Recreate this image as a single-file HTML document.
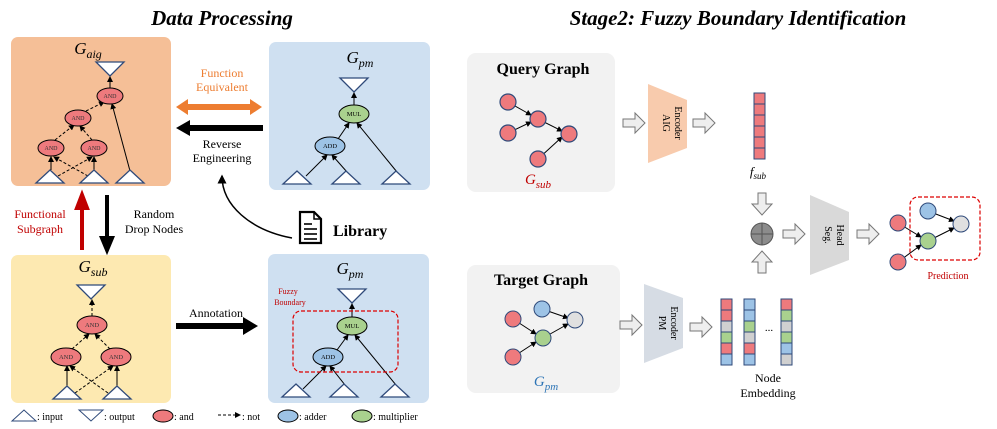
<!DOCTYPE html>
<html><head><meta charset="utf-8"><style>body{margin:0;background:#fff}svg{display:block}text{font-family:"Liberation Serif",serif}</style></head><body>
<svg width="997" height="429" viewBox="0 0 997 429" xmlns="http://www.w3.org/2000/svg">
<defs>
<marker id="ah" markerWidth="6" markerHeight="6" refX="5" refY="3" orient="auto"><path d="M0,0 L6,3 L0,6z" fill="#000"/></marker>
<g id="tin"><path d="M0,13 L14,0 L28,13z" fill="#fff" stroke="#2f4a7a" stroke-width="1.3"/></g>
<g id="tout"><path d="M0,0 L28,0 L14,14z" fill="#fff" stroke="#2f4a7a" stroke-width="1.3"/></g>
<g id="garr"><path d="M0,-4 L12,-4 L12,-10 L22,0 L12,10 L12,4 L0,4z" fill="#eee" stroke="#777" stroke-width="1"/></g>
</defs>
<text x="222" y="25" font-size="21" font-weight="bold" font-style="italic" text-anchor="middle">Data Processing</text>
<text x="738" y="25" font-size="21" font-weight="bold" font-style="italic" text-anchor="middle">Stage2: Fuzzy Boundary Identification</text>

<!-- G_aig -->
<rect x="11" y="37" width="160" height="149" rx="7" fill="#f5bf97"/>
<text x="88" y="54" font-size="17" font-style="italic" text-anchor="middle">G<tspan font-size="12" dy="4">aig</tspan></text>
<use href="#tout" x="96" y="62"/>
<g stroke="#000" stroke-width="1" fill="none">
<line x1="110" y1="88" x2="110" y2="77" marker-end="url(#ah)"/>
<line x1="86" y1="111" x2="104" y2="102" stroke-dasharray="3,2" marker-end="url(#ah)"/>
<line x1="130" y1="171" x2="112" y2="104" marker-end="url(#ah)"/>
<line x1="55" y1="140" x2="74" y2="125" stroke-dasharray="3,2" marker-end="url(#ah)"/>
<line x1="92" y1="140" x2="80" y2="126" stroke-dasharray="3,2" marker-end="url(#ah)"/>
<line x1="51" y1="170" x2="51" y2="157" marker-end="url(#ah)"/>
<line x1="94" y1="170" x2="94" y2="157" marker-end="url(#ah)"/>
<line x1="58" y1="176" x2="92" y2="157" stroke-dasharray="3,2" marker-end="url(#ah)"/>
<line x1="88" y1="176" x2="54" y2="157" stroke-dasharray="3,2" marker-end="url(#ah)"/>
</g>
<g fill="#ee7a7d" stroke="#000" stroke-width="1"><ellipse cx="110" cy="96" rx="13" ry="8"/><ellipse cx="78" cy="118" rx="13" ry="8"/><ellipse cx="51" cy="148" rx="13" ry="8"/><ellipse cx="94" cy="148" rx="13" ry="8"/></g>
<g font-size="6" text-anchor="middle" fill="#333"><text x="110" y="98">AND</text><text x="78" y="120">AND</text><text x="51" y="150">AND</text><text x="94" y="150">AND</text></g>
<use href="#tin" x="36" y="170"/><use href="#tin" x="80" y="170"/><use href="#tin" x="116" y="170"/>

<!-- G_pm top -->
<rect x="269" y="42" width="161" height="148" rx="7" fill="#cfe0f1"/>
<text x="360" y="63" font-size="17" font-style="italic" text-anchor="middle">G<tspan font-size="12" dy="4">pm</tspan></text>
<use href="#tout" x="340" y="78"/>
<g stroke="#000" stroke-width="1"><line x1="354" y1="105" x2="354" y2="93" marker-end="url(#ah)"/><line x1="338" y1="139" x2="349" y2="123" marker-end="url(#ah)"/><line x1="306" y1="176" x2="327" y2="155" marker-end="url(#ah)"/><line x1="347" y1="172" x2="332" y2="155" marker-end="url(#ah)"/><line x1="397" y1="172" x2="357" y2="123" marker-end="url(#ah)"/></g>
<ellipse cx="354" cy="114" rx="15" ry="9" fill="#a9d18e" stroke="#000"/><ellipse cx="330" cy="146" rx="15" ry="9" fill="#9dc3e6" stroke="#000"/>
<text x="354" y="116" font-size="6.5" text-anchor="middle">MUL</text><text x="330" y="148" font-size="6.5" text-anchor="middle">ADD</text>
<use href="#tin" x="283" y="171"/><use href="#tin" x="332" y="171"/><use href="#tin" x="382" y="171"/>

<!-- middle arrows -->
<text x="222" y="77" font-size="12" fill="#ed7d31" text-anchor="middle">Function</text>
<text x="222" y="91" font-size="12" fill="#ed7d31" text-anchor="middle">Equivalent</text>
<path d="M176,107 L188,99 L188,104 L250,104 L250,99 L262,107 L250,115 L250,110 L188,110 L188,115z" fill="#ed7d31"/>
<path d="M176,128 L190,120 L190,125 L263,125 L263,131 L190,131 L190,136z" fill="#000"/>
<text x="222" y="148" font-size="12" text-anchor="middle">Reverse</text>
<text x="222" y="162" font-size="12" text-anchor="middle">Engineering</text>
<path d="M292,238 C250,230 222,205 222,176" fill="none" stroke="#000" stroke-width="1.5" marker-end="url(#ah)"/>
<!-- library -->
<path d="M300,212 L314,212 L321,219 L321,243 L300,243z" fill="#fff" stroke="#000" stroke-width="2.2"/>
<path d="M314,212 L314,219 L321,219" fill="none" stroke="#000" stroke-width="1.5"/>
<g stroke="#000" stroke-width="1.6"><line x1="304" y1="224" x2="312" y2="224"/><line x1="304" y1="229" x2="317" y2="229"/><line x1="304" y1="234" x2="317" y2="234"/><line x1="304" y1="239" x2="317" y2="239"/></g>
<text x="333" y="236" font-size="16" font-weight="bold">Library</text>

<!-- vertical arrows -->
<path d="M82,250 L82,208 L77,208 L82,195 L87,208 L82,208" fill="#c00000" stroke="#c00000" stroke-width="4"/>
<path d="M107,195 L107,238 L112,238 L107,250 L102,238 L107,238" fill="#000" stroke="#000" stroke-width="4"/>
<text x="40" y="218" font-size="12" fill="#c00000" text-anchor="middle">Functional</text>
<text x="40" y="233" font-size="12" fill="#c00000" text-anchor="middle">Subgraph</text>
<text x="154" y="218" font-size="12" text-anchor="middle">Random</text>
<text x="154" y="233" font-size="12" text-anchor="middle">Drop Nodes</text>

<!-- G_sub -->
<rect x="11" y="255" width="160" height="148" rx="7" fill="#fde9b1"/>
<text x="93" y="272" font-size="17" font-style="italic" text-anchor="middle">G<tspan font-size="12" dy="4">sub</tspan></text>
<use href="#tout" x="77" y="285"/>
<g stroke="#000" stroke-width="1"><line x1="92" y1="316" x2="92" y2="300" stroke-dasharray="3,2" marker-end="url(#ah)"/><line x1="72" y1="349" x2="89" y2="334" stroke-dasharray="3,2" marker-end="url(#ah)"/><line x1="110" y1="349" x2="95" y2="334" stroke-dasharray="3,2" marker-end="url(#ah)"/><line x1="67" y1="386" x2="67" y2="366" marker-end="url(#ah)"/><line x1="117" y1="386" x2="117" y2="366" marker-end="url(#ah)"/><line x1="75" y1="393" x2="113" y2="366" stroke-dasharray="3,2" marker-end="url(#ah)"/><line x1="108" y1="393" x2="70" y2="366" stroke-dasharray="3,2" marker-end="url(#ah)"/></g>
<g fill="#ee7a7d" stroke="#000"><ellipse cx="92" cy="325" rx="15" ry="9"/><ellipse cx="66" cy="357" rx="15" ry="9"/><ellipse cx="116" cy="357" rx="15" ry="9"/></g>
<g font-size="6.5" text-anchor="middle" fill="#333"><text x="92" y="327">AND</text><text x="66" y="359">AND</text><text x="116" y="359">AND</text></g>
<use href="#tin" x="53" y="386"/><use href="#tin" x="103" y="386"/>

<text x="216" y="317" font-size="12" text-anchor="middle">Annotation</text>
<path d="M176,323 L243,323 L243,317 L258,326 L243,335 L243,329 L176,329z" fill="#000"/>

<!-- G_pm bottom -->
<rect x="268" y="254" width="161" height="149" rx="7" fill="#cfe0f1"/>
<text x="350" y="274" font-size="17" font-style="italic" text-anchor="middle">G<tspan font-size="12" dy="4">pm</tspan></text>
<text x="288" y="294" font-size="8" fill="#c00000" text-anchor="middle">Fuzzy</text>
<text x="290" y="305" font-size="8" fill="#c00000" text-anchor="middle">Boundary</text>
<use href="#tout" x="338" y="289"/>
<g stroke="#000" stroke-width="1"><line x1="352" y1="317" x2="352" y2="304" marker-end="url(#ah)"/><line x1="337" y1="350" x2="348" y2="335" marker-end="url(#ah)"/><line x1="303" y1="389" x2="326" y2="366" marker-end="url(#ah)"/><line x1="345" y1="385" x2="330" y2="366" marker-end="url(#ah)"/><line x1="396" y1="385" x2="355" y2="335" marker-end="url(#ah)"/></g>
<ellipse cx="352" cy="326" rx="15" ry="9" fill="#a9d18e" stroke="#000"/><ellipse cx="328" cy="357" rx="15" ry="9" fill="#9dc3e6" stroke="#000"/>
<text x="352" y="328" font-size="6.5" text-anchor="middle">MUL</text><text x="328" y="359" font-size="6.5" text-anchor="middle">ADD</text>
<rect x="293" y="311" width="105" height="61" rx="8" fill="none" stroke="#d00" stroke-width="1.2" stroke-dasharray="4,2"/>
<use href="#tin" x="282" y="384"/><use href="#tin" x="330" y="384"/><use href="#tin" x="381" y="384"/>

<!-- legend -->
<path d="M12,421 L24,410 L36,421z" fill="#fff" stroke="#2f4a7a"/><text x="37" y="420" font-size="10">: input</text>
<path d="M79,410 L103,410 L91,421z" fill="#fff" stroke="#2f4a7a"/><text x="104" y="420" font-size="10">: output</text>
<ellipse cx="163" cy="416" rx="10" ry="6" fill="#ee7a7d" stroke="#000"/><text x="174" y="420" font-size="10">: and</text>
<line x1="218" y1="415" x2="240" y2="415" stroke="#000" stroke-dasharray="3,2" marker-end="url(#ah)"/><text x="242" y="420" font-size="10">: not</text>
<ellipse cx="288" cy="416" rx="10" ry="6" fill="#9dc3e6" stroke="#000"/><text x="299" y="420" font-size="10">: adder</text>
<ellipse cx="362" cy="416" rx="10" ry="6" fill="#a9d18e" stroke="#000"/><text x="373" y="420" font-size="10">: multiplier</text>

<!-- Query -->
<rect x="467" y="53" width="148" height="139" rx="9" fill="#f2f2f2"/>
<text x="543" y="74" font-size="16" font-weight="bold" text-anchor="middle">Query Graph</text>
<g stroke="#000" stroke-width="1"><line x1="508" y1="102" x2="531" y2="115" marker-end="url(#ah)"/><line x1="508" y1="133" x2="531" y2="122" marker-end="url(#ah)"/><line x1="538" y1="119" x2="562" y2="131" marker-end="url(#ah)"/><line x1="538" y1="159" x2="562" y2="137" marker-end="url(#ah)"/></g>
<g fill="#ee7a7d" stroke="#2f4a7a" stroke-width="1.2"><circle cx="508" cy="102" r="8"/><circle cx="508" cy="133" r="8"/><circle cx="538" cy="119" r="8"/><circle cx="569" cy="134" r="8"/><circle cx="538" cy="159" r="8"/></g>
<text x="538" y="184" font-size="15" font-style="italic" fill="#c00000" text-anchor="middle">G<tspan font-size="11" dy="4">sub</tspan></text>
<use href="#garr" x="623" y="123"/>
<path d="M648,84 L687,100 L687,148 L648,163z" fill="#f8cbad"/>
<text transform="translate(663,123) rotate(90)" font-size="10" text-anchor="middle">AIG</text>
<text transform="translate(675,123) rotate(90)" font-size="10" text-anchor="middle">Encoder</text>
<use href="#garr" x="693" y="123"/>
<g fill="#ee7a7d" stroke="#2f4a7a" stroke-width="1"><rect x="754" y="93" width="11" height="11"/><rect x="754" y="104" width="11" height="11"/><rect x="754" y="115" width="11" height="11"/><rect x="754" y="126" width="11" height="11"/><rect x="754" y="137" width="11" height="11"/><rect x="754" y="148" width="11" height="11"/></g>
<text x="758" y="176" font-size="13" font-style="italic" text-anchor="middle">f<tspan font-size="9" dy="3">sub</tspan></text>
<path d="M758,193 L766,193 L766,204 L772,204 L762,215 L752,204 L758,204z" fill="#eee" stroke="#777"/>
<circle cx="762" cy="234" r="11" fill="#8c8c8c" stroke="#555"/><line x1="751" y1="234" x2="773" y2="234" stroke="#555"/><line x1="762" y1="223" x2="762" y2="245" stroke="#555"/>
<path d="M758,273 L766,273 L766,262 L772,262 L762,251 L752,262 L758,262z" fill="#eee" stroke="#777"/>
<use href="#garr" x="783" y="234"/>
<path d="M810,195 L849,212 L849,260 L810,275z" fill="#d9d9d9"/>
<text transform="translate(825,235) rotate(90)" font-size="10" text-anchor="middle">Seg.</text>
<text transform="translate(837,235) rotate(90)" font-size="10" text-anchor="middle">Head</text>
<use href="#garr" x="857" y="234"/>
<g stroke="#000" stroke-width="1"><line x1="898" y1="223" x2="921" y2="237" marker-end="url(#ah)"/><line x1="898" y1="262" x2="921" y2="245" marker-end="url(#ah)"/><line x1="928" y1="211" x2="954" y2="221" marker-end="url(#ah)"/><line x1="928" y1="241" x2="954" y2="228" marker-end="url(#ah)"/></g>
<circle cx="898" cy="223" r="8" fill="#ee7a7d" stroke="#2f4a7a"/><circle cx="898" cy="262" r="8" fill="#ee7a7d" stroke="#2f4a7a"/><circle cx="928" cy="211" r="8" fill="#9dc3e6" stroke="#2f4a7a"/><circle cx="928" cy="241" r="8" fill="#a9d18e" stroke="#2f4a7a"/><circle cx="961" cy="224" r="8" fill="#e0e0e0" stroke="#2f4a7a"/>
<rect x="910" y="197" width="70" height="63" rx="8" fill="none" stroke="#d00" stroke-width="1.2" stroke-dasharray="4,2"/>
<text x="948" y="279" font-size="10" fill="#c00000" text-anchor="middle">Prediction</text>

<!-- Target -->
<rect x="467" y="265" width="153" height="128" rx="9" fill="#f2f2f2"/>
<text x="541" y="285" font-size="16" font-weight="bold" text-anchor="middle">Target Graph</text>
<g stroke="#000" stroke-width="1"><line x1="513" y1="319" x2="536" y2="334" marker-end="url(#ah)"/><line x1="513" y1="357" x2="536" y2="342" marker-end="url(#ah)"/><line x1="542" y1="309" x2="568" y2="318" marker-end="url(#ah)"/><line x1="543" y1="338" x2="568" y2="324" marker-end="url(#ah)"/></g>
<circle cx="513" cy="319" r="8" fill="#ee7a7d" stroke="#2f4a7a"/><circle cx="513" cy="357" r="8" fill="#ee7a7d" stroke="#2f4a7a"/><circle cx="542" cy="309" r="8" fill="#9dc3e6" stroke="#2f4a7a"/><circle cx="543" cy="338" r="8" fill="#a9d18e" stroke="#2f4a7a"/><circle cx="575" cy="320" r="8" fill="#e0e0e0" stroke="#2f4a7a"/>
<text x="546" y="386" font-size="15" font-style="italic" fill="#2e75b6" text-anchor="middle">G<tspan font-size="11" dy="4">pm</tspan></text>
<use href="#garr" x="620" y="325"/>
<path d="M644,284 L683,298 L683,348 L644,363z" fill="#d6dce4"/>
<text transform="translate(659,323) rotate(90)" font-size="10" text-anchor="middle">PM</text>
<text transform="translate(671,323) rotate(90)" font-size="10" text-anchor="middle">Encoder</text>
<use href="#garr" x="690" y="327"/>
<g stroke="#2f4a7a" stroke-width="1">
<rect x="721" y="299" width="11" height="11" fill="#ee7a7d"/><rect x="721" y="310" width="11" height="11" fill="#ee7a7d"/><rect x="721" y="321" width="11" height="11" fill="#d0d0d0"/><rect x="721" y="332" width="11" height="11" fill="#a9d18e"/><rect x="721" y="343" width="11" height="11" fill="#ee7a7d"/><rect x="721" y="354" width="11" height="11" fill="#9dc3e6"/>
<rect x="744" y="299" width="11" height="11" fill="#9dc3e6"/><rect x="744" y="310" width="11" height="11" fill="#9dc3e6"/><rect x="744" y="321" width="11" height="11" fill="#a9d18e"/><rect x="744" y="332" width="11" height="11" fill="#d0d0d0"/><rect x="744" y="343" width="11" height="11" fill="#ee7a7d"/><rect x="744" y="354" width="11" height="11" fill="#9dc3e6"/>
<rect x="781" y="299" width="11" height="11" fill="#ee7a7d"/><rect x="781" y="310" width="11" height="11" fill="#a9d18e"/><rect x="781" y="321" width="11" height="11" fill="#d0d0d0"/><rect x="781" y="332" width="11" height="11" fill="#a9d18e"/><rect x="781" y="343" width="11" height="11" fill="#9dc3e6"/><rect x="781" y="354" width="11" height="11" fill="#d0d0d0"/>
</g>
<text x="769" y="331" font-size="11" text-anchor="middle">...</text>
<text x="768" y="382" font-size="12" text-anchor="middle">Node</text>
<text x="768" y="397" font-size="12" text-anchor="middle">Embedding</text>
</svg>
</body></html>
